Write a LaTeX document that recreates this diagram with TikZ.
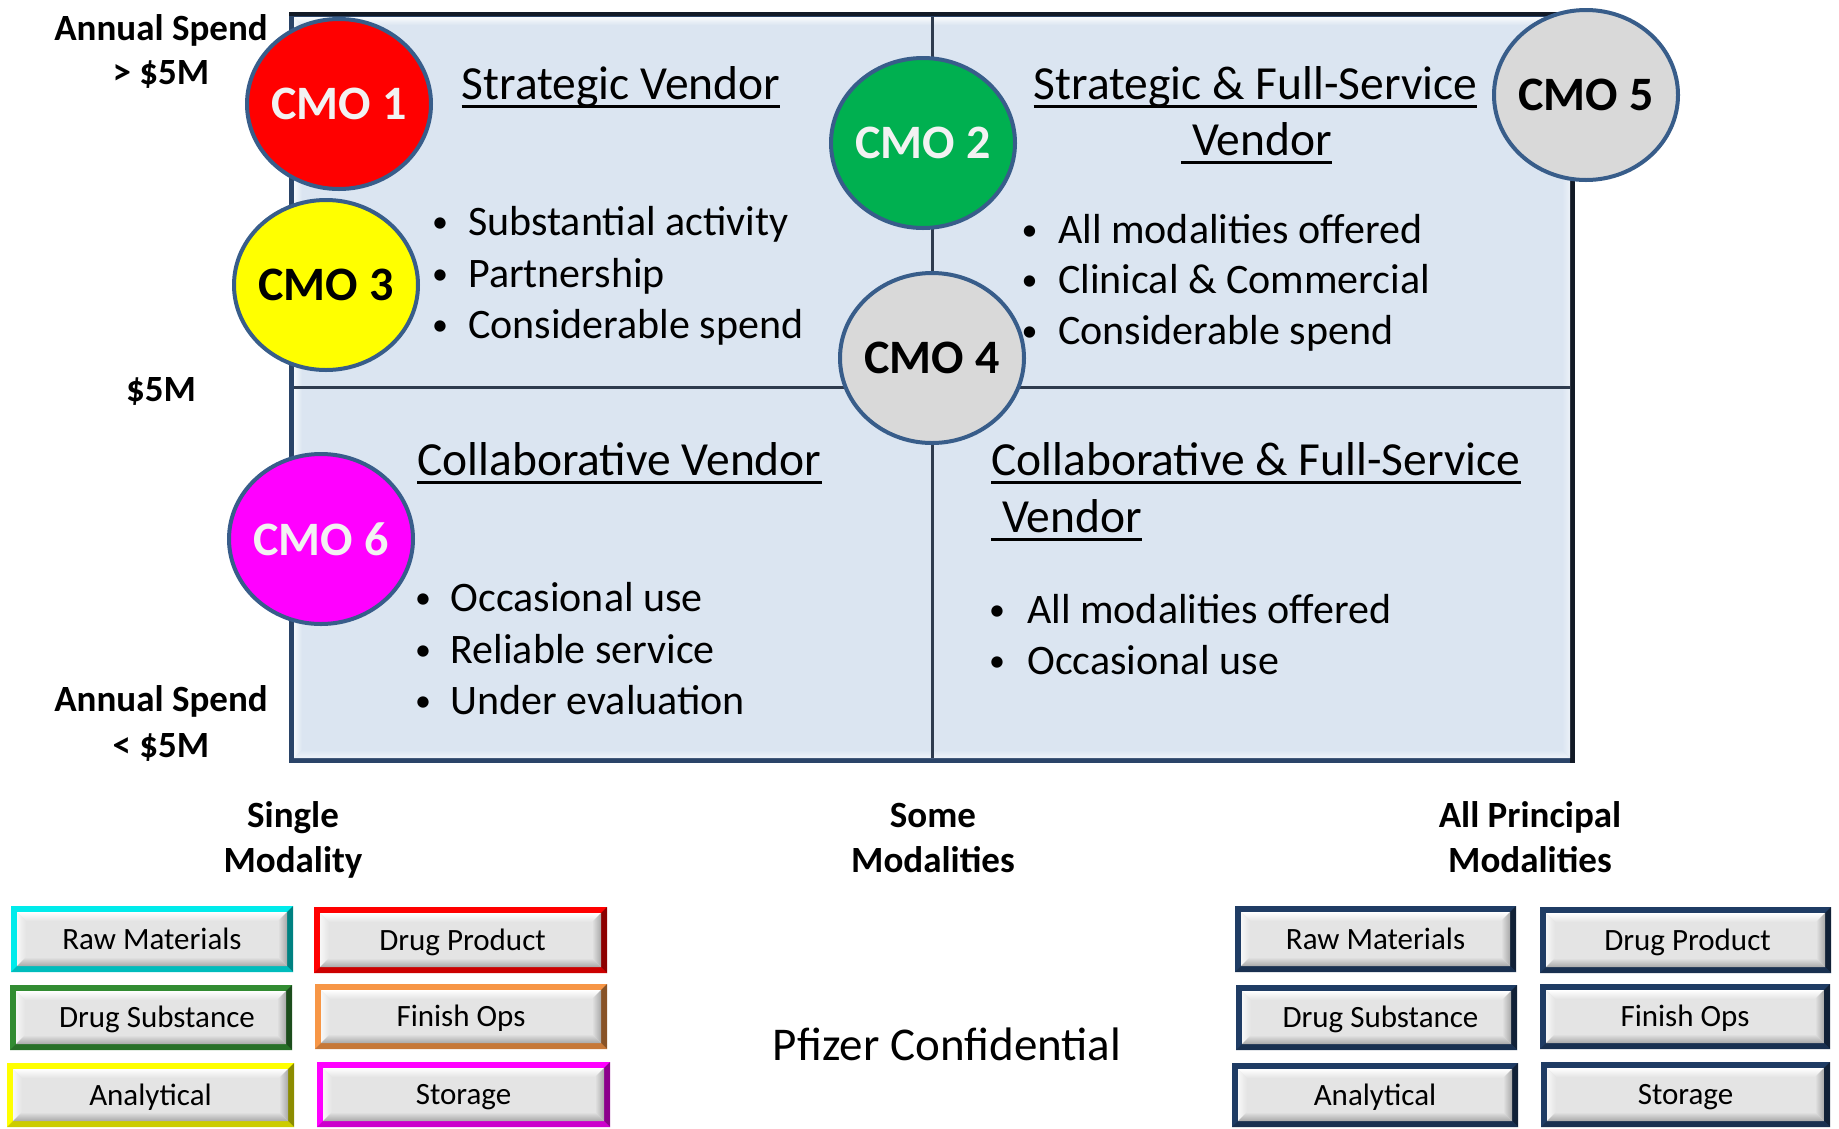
\documentclass[tikz,border=0pt]{standalone}
\usepackage{fontspec}
\setmainfont{Carlito}
\usetikzlibrary{shapes.geometric}

\definecolor{panelfill}{HTML}{DBE5F1}
\definecolor{paneledge}{HTML}{2A4468}
\definecolor{paneldark}{HTML}{121A26}
\definecolor{divider}{HTML}{2E3B4E}
\definecolor{ringblue}{HTML}{385D8A}
\definecolor{cmogray}{HTML}{D9D9D9}
\definecolor{cmogreen}{HTML}{00B050}
\definecolor{cmored}{RGB}{255,0,0}
\definecolor{cmoyellow}{RGB}{255,255,0}
\definecolor{cmomagenta}{RGB}{255,0,255}
\definecolor{cmotext}{HTML}{F2F2F2}
\definecolor{btnface}{HTML}{E4E4E4}
\definecolor{btnshadow}{HTML}{A9A9A9}
\definecolor{navyframe}{HTML}{1F3C64}
\definecolor{orangeframe}{HTML}{F79646}
\definecolor{greenframe}{RGB}{50,140,50}
\definecolor{cyanframe}{RGB}{0,235,235}

\tikzset{
  cmo/.style={ellipse, draw=ringblue, line width=4pt, minimum width=184pt,
    minimum height=170pt, inner sep=0pt, font=\fontsize{48}{52}\selectfont\bfseries},
  heading/.style={inner sep=0pt, font=\fontsize{47.5}{56}\selectfont},
  uline/.style={line width=3.5pt, black},
  bulletline/.style={inner sep=0pt, anchor=base west, font=\fontsize{42}{50}\selectfont},
  sidelabel/.style={inner sep=0pt, anchor=base, font=\fontsize{37}{44}\selectfont\bfseries},
  btntext/.style={inner sep=0pt, font=\fontsize{31}{36}\selectfont, text height=25pt, text depth=5pt},
  divline/.style={divider, line width=3pt}
}

% marker label in a fixed-width box so the ellipse keeps its set size
\newcommand{\cmolabel}[1]{\makebox[100pt]{#1}}

% a smaller bullet dot, lifted to sit at mid x-height
\newcommand{\smalldot}{\raisebox{2.5pt}{\fontsize{32}{36}\selectfont\textbullet}}

% one bullet line: name, dot centre x, baseline y, gap to text, text
\newcommand{\bulletitem}[5]{%
  \node[bulletline] (#1) at (#2,#3) {\makebox[0pt][c]{\smalldot}\hspace*{#4pt}#5};}

% bevelled button: name, x1, y1, x2, y2, frame colour, label
\newcommand{\bevelbutton}[7]{%
  \fill[#6] (#2,#3) rectangle (#4,#5);
  \fill[#6!55!black] (#4,#3) -- (#4,#5) -- ({#4-6},{#5-6}) -- ({#4-6},{#3+6}) -- cycle;
  \fill[#6!80!black] (#2,#5) -- (#4,#5) -- ({#4-6},{#5-6}) -- ({#2+6},{#5-6}) -- cycle;
  \fill[btnface] ({#2+6},{#3+6}) rectangle ({#4-6},{#5-6});
  \shade[top color=white, bottom color=btnface]
    ({#2+6},{#3+6}) -- ({#4-6},{#3+6}) -- ({#4-15},{#3+15}) -- ({#2+15},{#3+15}) -- cycle;
  \shade[left color=white!70!btnface, right color=btnface]
    ({#2+6},{#3+6}) -- ({#2+15},{#3+15}) -- ({#2+15},{#5-15}) -- ({#2+6},{#5-6}) -- cycle;
  \shade[top color=btnface, bottom color=btnshadow]
    ({#2+6},{#5-6}) -- ({#2+15},{#5-15}) -- ({#4-15},{#5-15}) -- ({#4-6},{#5-6}) -- cycle;
  \shade[left color=btnface, right color=btnshadow]
    ({#4-6},{#3+6}) -- ({#4-6},{#5-6}) -- ({#4-15},{#5-15}) -- ({#4-15},{#3+15}) -- cycle;
  \node[btntext] (#1) at ({(#2+#4)/2},{(#3+#5)/2}) {#7};}

\begin{document}
\begin{tikzpicture}[x=1pt,y=-1pt]
\useasboundingbox (0,0) rectangle (1839,1128);

% ---- quadrant panel with bevelled frame
\fill[paneledge] (289,12) rectangle (1575,763);
\fill[paneldark] (289,12) rectangle (1575,16);
\fill[paneldark] (1570,12) rectangle (1575,763);
\fill[panelfill] (294,17) rectangle (1570,758);
\shade[top color=white!85!panelfill, bottom color=panelfill]
  (294,17) -- (1570,17) -- (1562,25) -- (302,25) -- cycle;
\shade[left color=white!70!panelfill, right color=panelfill]
  (294,17) -- (302,25) -- (302,750) -- (294,758) -- cycle;
\shade[top color=panelfill, bottom color=white!55!panelfill]
  (294,758) -- (302,750) -- (1562,750) -- (1570,758) -- cycle;
\shade[left color=panelfill, right color=white!45!panelfill]
  (1570,17) -- (1570,758) -- (1562,750) -- (1562,25) -- cycle;

% ---- quadrant dividers
\draw[divline] (932.5,17) -- (932.5,758);
\draw[divline] (294,387) -- (1570,387);

% ---- vendor markers
\node[cmo, fill=cmored, text=cmotext]     (cmo1) at (339,104) {\cmolabel{CMO 1}};
\node[cmo, fill=cmogreen, text=cmotext]   (cmo2) at (923,143) {\cmolabel{CMO 2}};
\node[cmo, fill=cmoyellow, text=black]    (cmo3) at (326,285) {\cmolabel{CMO 3}};
\node[cmo, fill=cmogray, text=black]      (cmo4) at (932,358) {\cmolabel{CMO 4}};
\node[cmo, fill=cmogray, text=black]      (cmo5) at (1586,95) {\cmolabel{CMO 5}};
\node[cmo, fill=cmomagenta, text=cmotext] (cmo6) at (321,539) {\cmolabel{CMO 6}};

% ---- top-left quadrant
\node[heading, anchor=base west] (hsv) at (461.5,99) {Strategic Vendor};
\draw[uline] ([yshift=-7.5pt]hsv.base west) -- ([yshift=-7.5pt]hsv.base east);
\bulletitem{tl1}{440}{235}{28}{Substantial activity}
\bulletitem{tl2}{440}{287}{28}{Partnership}
\bulletitem{tl3}{440}{338}{28}{Considerable spend}

% ---- top-right quadrant
\node[heading, anchor=base] (hsf) at (1255.5,99) {Strategic \& Full-Service};
\draw[uline] ([yshift=-7.5pt]hsf.base west) -- ([yshift=-7.5pt]hsf.base east);
\node[heading, anchor=base] (hsfv) at (1256.5,155) {\hspace*{11pt}Vendor};
\draw[uline] ([yshift=-7.5pt]hsfv.base west) -- ([yshift=-7.5pt]hsfv.base east);
\bulletitem{tr1}{1029.5}{243}{28.5}{All modalities offered}
\bulletitem{tr2}{1029.5}{293}{28.5}{Clinical \& Commercial}
\bulletitem{tr3}{1029.5}{344}{28.5}{Considerable spend}

% ---- bottom-left quadrant
\node[heading, anchor=base west] (hcv) at (417,475) {Collaborative Vendor};
\draw[uline] ([yshift=-7.5pt]hcv.base west) -- ([yshift=-7.5pt]hcv.base east);
\bulletitem{bl1}{423}{611}{27.5}{Occasional use}
\bulletitem{bl2}{423}{663}{27.5}{Reliable service}
\bulletitem{bl3}{423}{714}{27.5}{Under evaluation}

% ---- bottom-right quadrant
\node[heading, anchor=base west] (hcf) at (991,475) {Collaborative \& Full-Service};
\draw[uline] ([yshift=-7.5pt]hcf.base west) -- ([yshift=-7.5pt]hcf.base east);
\node[heading, anchor=base west] (hcfv) at (991,532) {\hspace*{11pt}Vendor};
\draw[uline] ([yshift=-7.5pt]hcfv.base west) -- ([yshift=-7.5pt]hcfv.base east);
\bulletitem{br1}{997}{623}{30}{All modalities offered}
\bulletitem{br2}{997}{674}{30}{Occasional use}

% ---- spend axis
\node[sidelabel] (hi1) at (161,40) {Annual Spend};
\node[sidelabel] (hi2) at (161,84) {> \$5M};
\node[sidelabel] (mid) at (161,401) {\$5M};
\node[sidelabel] (lo1) at (161,711) {Annual Spend};
\node[sidelabel] (lo2) at (161,757) {< \$5M};

% ---- modality axis
\node[sidelabel] (sm1) at (293,827) {Single};
\node[sidelabel] (sm2) at (293,872) {Modality};
\node[sidelabel] (so1) at (933,827) {Some};
\node[sidelabel] (so2) at (933,872) {Modalities};
\node[sidelabel] (ap1) at (1530,827) {All Principal};
\node[sidelabel] (ap2) at (1530,872) {Modalities};

% ---- modality buttons, single-modality side
\bevelbutton{rm1}{11}{906}{293}{972}{cyanframe}{Raw Materials}
\bevelbutton{ds1}{10}{985}{292}{1050}{greenframe}{\hspace*{12pt}Drug Substance}
\bevelbutton{an1}{7}{1063}{294}{1127}{cmoyellow}{Analytical}
\bevelbutton{dp1}{314}{907}{607}{973}{cmored}{\hspace*{4pt}Drug Product}
\bevelbutton{fo1}{315}{984}{607}{1049}{orangeframe}{Finish Ops}
\bevelbutton{st1}{317}{1062}{610}{1127}{cmomagenta}{Storage}

% ---- modality buttons, all-modalities side
\bevelbutton{rm2}{1235}{906}{1516}{972}{navyframe}{Raw Materials}
\bevelbutton{ds2}{1236}{985}{1517}{1050}{navyframe}{\hspace*{8pt}Drug Substance}
\bevelbutton{an2}{1232}{1063}{1518}{1127}{navyframe}{Analytical}
\bevelbutton{dp2}{1540}{907}{1831}{973}{navyframe}{\hspace*{4pt}Drug Product}
\bevelbutton{fo2}{1540}{984}{1830}{1049}{navyframe}{Finish Ops}
\bevelbutton{st2}{1541}{1062}{1830}{1127}{navyframe}{Storage}

% ---- footer
\node[inner sep=0pt, anchor=base, font=\fontsize{47}{56}\selectfont] (conf) at (947,1060) {Pfizer Confidential};
\end{tikzpicture}
\end{document}
